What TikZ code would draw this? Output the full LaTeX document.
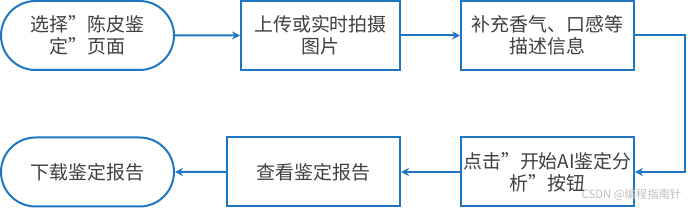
\documentclass[tikz,border=0pt]{standalone}
\usepackage{fontspec}
\setmainfont{Noto Sans CJK SC}
\usepackage{tikz}
\usetikzlibrary{arrows.meta,shapes.misc}
\definecolor{flowblue}{HTML}{1F77C4}
\definecolor{txtgrey}{HTML}{404040}

\begin{document}
\begin{tikzpicture}[x=0.75pt,y=-0.75pt,font=\fontsize{14.2}{16.5}\selectfont,
  stepbox/.style={draw=flowblue,line width=1.5pt,fill=white,rectangle,
             minimum height=51.75pt,align=center,inner sep=0pt,text=txtgrey},
  endbox/.style={stepbox,rounded rectangle,minimum width=129.75pt},
  flow/.style={draw=flowblue,line width=1.5pt,-{Stealth[length=6pt,width=6pt]}}]
\useasboundingbox (0,0) rectangle (693,209);

\node[endbox] (s1) at (87.5,35.5) {选择"陈皮鉴\\定"页面};
\node[stepbox,minimum width=119.25pt] (s2) at (320.5,35.5) {上传或实时拍摄\\图片};
\node[stepbox,minimum width=129.75pt] (s3) at (547.5,35.5) {补充香气、口感等\\描述信息};
\node[stepbox,minimum width=129.75pt] (s4) at (547.5,172) {点击"开始AI鉴定分\\析"按钮};
\node[stepbox,minimum width=129.75pt] (s5) at (313.5,172) {查看鉴定报告};
\node[endbox] (s6) at (87.5,172) {下载鉴定报告};
\coordinate (turn) at (685,35.5);

\foreach \a/\b in {s1/s2,s2/s3,s4/s5,s5/s6} \draw[flow] (\a) -- (\b);
\draw[flow] (s3.east) -- (turn) |- (s4.east);

\node[font=\fontsize{8.5}{10}\selectfont,text=black!25,anchor=east] (mark)
  at (686,195) {CSDN @编程指南针};
\end{tikzpicture}
\end{document}
